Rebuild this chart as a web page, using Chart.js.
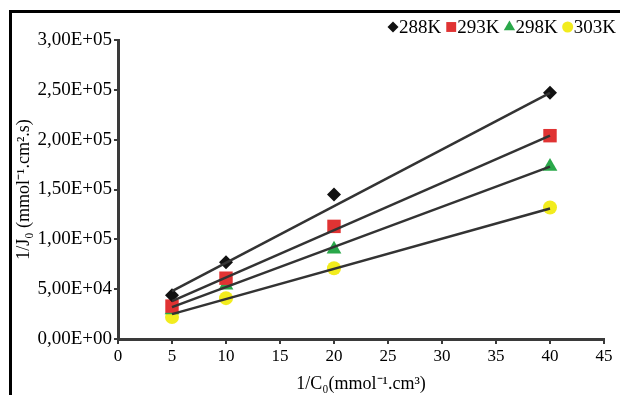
<!DOCTYPE html>
<html>
<head>
<meta charset="utf-8">
<script src="https://cdn.jsdelivr.net/npm/chart.js@4"></script>
<style>
  body { margin: 0; background: #fff; }
  #wrap { position: relative; width: 620px; height: 395px; }
  #frame { position: absolute; left: 9px; top: 10px; right: 0; bottom: 0; border-left: 3px solid #000; border-top: 3px solid #000; pointer-events: none; }
  canvas { position: absolute; left: 0; top: 0; }
</style>
</head>
<body>
<div id="wrap">
  <canvas id="chart" width="620" height="395"></canvas>
  <div id="frame"></div>
</div>
<script>
const xValues = [5, 10, 20, 40];
const seriesNames = ['288K', '293K', '298K', '303K'];
const y288 = [44000, 77000, 145000, 247000];
const y293 = [33000, 61000, 113000, 204000];
const y298 = [29000, 54000, 90000, 173000];
const y303 = [22000, 41000, 71000, 132000];

// trend lines, read at x = 5 and x = 40
const fitX = [5, 40];
const fit288 = [48000, 247000];
const fit293 = [38000, 204000];
const fit298 = [32000, 173000];
const fit303 = [25000, 131000];

const yTickLabels = ['0,00E+00', '5,00E+04', '1,00E+05', '1,50E+05', '2,00E+05', '2,50E+05', '3,00E+05'];

const serif = "'Liberation Serif', 'Times New Roman', serif";
const axisColor = '#3a3a3a';

const pts = (ys) => xValues.map((x, i) => ({ x: x, y: ys[i] }));
const fit = (ys) => fitX.map((x, i) => ({ x: x, y: ys[i] }));

const markers = [
  { data: y288, style: 'rectRot', color: '#111111', r: 7, lr: 5.5 },
  { data: y293, style: 'rect', color: '#e03333', r: 9.5, lr: 7 },
  { data: y298, style: 'triangle', color: '#2aa84a', r: 8.5, lr: 6.5 },
  { data: y303, style: 'circle', color: '#f2ec1e', r: 7, lr: 5.5 }
];

const datasets = markers.map((m, i) => ({
  label: seriesNames[i],
  data: pts(m.data),
  showLine: false,
  pointStyle: m.style,
  pointRadius: m.r,
  backgroundColor: m.color,
  borderColor: m.color,
  borderWidth: 0,
  order: 1
}));

[fit288, fit293, fit298, fit303].forEach(f => {
  datasets.push({
    label: 'fit',
    data: fit(f),
    showLine: true,
    pointRadius: 0,
    borderColor: '#333333',
    borderWidth: 2.5,
    order: 0
  });
});

// small legend in the top right corner, marker right against the text
const cornerLegend = {
  id: 'cornerLegend',
  afterDraw(chart) {
    const ctx = chart.ctx;
    ctx.save();
    ctx.font = '19px ' + serif;
    ctx.textBaseline = 'middle';
    ctx.fillStyle = '#000';
    let x = 387;
    const y = 27;
    markers.forEach((m, i) => {
      ctx.fillStyle = m.color;
      Chart.helpers.drawPoint(ctx, { pointStyle: m.style, radius: m.lr, rotation: 0, borderWidth: 0 }, x + 6, y);
      ctx.fillStyle = '#000';
      ctx.fillText(seriesNames[i], x + 12, y + 1);
      x += 12 + ctx.measureText(seriesNames[i]).width + 4;
    });
    ctx.restore();
  }
};

new Chart(document.getElementById('chart'), {
  type: 'scatter',
  data: { datasets: datasets },
  options: {
    responsive: false,
    animation: false,
    layout: { padding: { left: 10, right: 16, top: 40, bottom: 0 } },
    plugins: {
      tooltip: { enabled: false },
      legend: { display: false }
    },
    scales: {
      x: {
        type: 'linear',
        min: 0,
        max: 45,
        ticks: { stepSize: 5, color: '#000', font: { family: serif, size: 17 }, padding: 2 },
        grid: { drawOnChartArea: false, drawTicks: true, tickLength: 5, color: axisColor, lineWidth: 2 },
        border: { color: axisColor, width: 3 },
        title: { display: true, text: '1/C\u2080(mmol\u207B\u00B9.cm\u00B3)', color: '#000', font: { family: serif, size: 18 }, padding: { top: 0, bottom: 0 } },
        afterFit: s => { s.height = 56; }
      },
      y: {
        type: 'linear',
        min: 0,
        max: 300000,
        ticks: {
          stepSize: 50000,
          color: '#000',
          font: { family: serif, size: 19 },
          padding: 2,
          callback: (v, i) => yTickLabels[i]
        },
        grid: { drawOnChartArea: false, drawTicks: true, tickLength: 4, color: axisColor, lineWidth: 2 },
        border: { color: axisColor, width: 3 },
        title: { display: true, text: '1/J\u2080 (mmol\u207B\u00B9.cm\u00B2.s)', color: '#000', font: { family: serif, size: 18 }, padding: { top: 3, bottom: 0 } },
        afterFit: s => { s.width = 108; }
      }
    }
  },
  plugins: [cornerLegend]
});
</script>
</body>
</html>
